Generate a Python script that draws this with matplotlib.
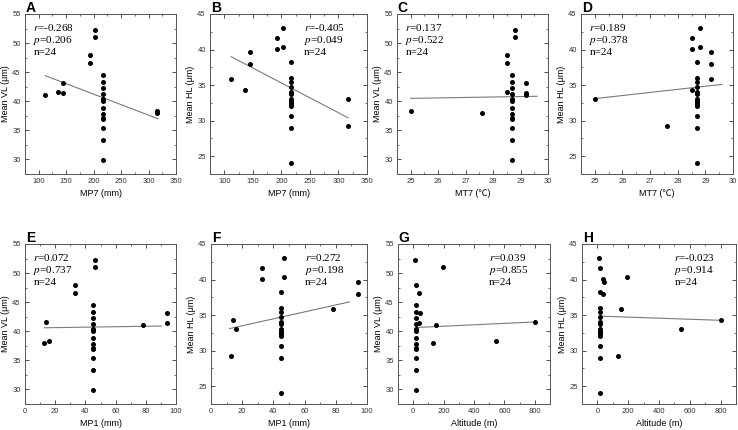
import matplotlib
matplotlib.use("Agg")
import matplotlib.pyplot as plt
import numpy as np
from matplotlib.ticker import MultipleLocator

plt.rcParams["font.family"] = ["Liberation Sans", "Noto Sans CJK SC", "DejaVu Sans"]
plt.rcParams["mathtext.fontset"] = "stix"

# 24 sites: the first 10 are distinct, the last 14 share one weather station
mp7 = [202, 202, 193, 193, 145, 145, 112, 136, 316, 316,
       217, 217, 217, 217, 217, 217, 217, 217, 217, 217, 217, 217, 217, 217]
mt7 = [28.8, 28.8, 28.5, 28.5, 29.2, 29.2, 29.2, 28.5, 25.0, 27.6,
       28.7, 28.7, 28.7, 28.7, 28.7, 28.7, 28.7, 28.7, 28.7, 28.7, 28.7, 28.7, 28.7, 28.7]
mp1 = [46.5, 46.5, 33, 33, 94, 94, 78, 14, 16, 12.5,
       45, 45, 45, 45, 45, 45, 45, 45, 45, 45, 45, 45, 45, 45]
altitude = [9, 193, 20, 35, 45, 36, 152, 800, 543, 132,
            20, 20, 20, 20, 20, 20, 20, 20, 20, 20, 20, 20, 20, 20]
vl = [52.2, 51.1, 48.0, 46.5, 43.2, 41.4, 41.0, 41.6, 38.3, 38.0,
      44.5, 43.3, 42.2, 41.2, 40.4, 40.2, 40.1, 38.8, 37.8, 37.2, 36.9, 35.4, 33.3, 29.9]
hl = [43.0, 40.4, 41.6, 40.1, 39.6, 37.9, 35.9, 34.3, 33.1, 29.3,
      38.3, 36.0, 35.5, 34.8, 34.0, 33.7, 33.05, 32.7, 32.45, 32.3, 32.1, 30.65, 29.0, 24.1]

r_vals = ["-0.268", "-0.405", "0.137", "0.189", "0.072", "0.272", "0.039", "-0.023"]
p_vals = ["0.206", "0.049", "0.522", "0.378", "0.737", "0.198", "0.855", "0.914"]

# fitted lines as drawn in the original (start/end x and y)
fit_x = [(112, 317), (112, 317), (25, 29.6), (25, 29.6),
         (12.8, 90.5), (11.8, 88.6), (20, 800), (20, 800)]
fit_y = [(44.4, 37.0), (39.0, 30.4), (40.5, 40.86), (33.1, 35.1),
         (40.6, 40.9), (33.1, 36.85), (40.65, 41.6), (34.85, 34.27)]

letters = list("ABCDEFGH")
xs = [mp7, mp7, mt7, mt7, mp1, mp1, altitude, altitude]
ys = [vl, hl, vl, hl, vl, hl, vl, hl]
xlabels = ["MP7 (mm)", "MP7 (mm)", "MT7 (℃)", "MT7 (℃)",
           "MP1 (mm)", "MP1 (mm)", "Altitude (m)", "Altitude (m)"]
ylabels = ["Mean VL (μm)", "Mean HL (μm)"] * 4

xlims = [(75, 350), (75, 350), (24.5, 30), (24.5, 30),
         (0, 100), (0, 100), (-100, 900), (-100, 900)]
xsteps = [50, 50, 1, 1, 20, 20, 200, 200]
stat_right = [False, True, False, False, False, True, True, True]

W, H = 738, 430
# pixel boxes (left, top, right, bottom)
boxes = [(25, 14, 176, 174), (210, 14, 367, 174), (397, 14, 548, 174), (581, 14, 733, 174),
         (25, 244, 176, 404), (211, 244, 367, 404), (398, 244, 550, 404), (582, 244, 736, 404)]

fig = plt.figure(figsize=(W / 100, H / 100), dpi=100)

for i in range(8):
    l, t, r, b = boxes[i]
    ax = fig.add_axes([l / W, 1 - b / H, (r - l) / W, (b - t) / H])

    ax.scatter(xs[i], ys[i], s=13, color="black", zorder=3, linewidths=0)
    ax.plot(fit_x[i], fit_y[i], color="#7a7a7a", lw=0.8, zorder=2)

    ax.set_xlim(xlims[i])
    ax.xaxis.set_major_locator(MultipleLocator(xsteps[i]))
    ax.xaxis.set_minor_locator(MultipleLocator(xsteps[i] / 2))
    if ys[i] is vl:
        ax.set_ylim(27.5, 55)
    else:
        ax.set_ylim(22.5, 45)
    ax.yaxis.set_major_locator(MultipleLocator(5))
    ax.yaxis.set_minor_locator(MultipleLocator(2.5))

    ax.tick_params(which="both", direction="in", top=True, right=True,
                   labelsize=5.5, colors="#333333", pad=3)
    ax.tick_params(which="major", length=3, width=0.6)
    ax.tick_params(which="minor", length=1.6, width=0.5)
    for sp in ax.spines.values():
        sp.set_linewidth(0.7)
        sp.set_color("#555555")

    ax.set_xlabel(xlabels[i], fontsize=6.5, labelpad=3)
    ax.set_ylabel(ylabels[i], fontsize=6.5, labelpad=2)

    sx = 0.6 if stat_right[i] else 0.055
    ax.text(sx, 0.95, f"$r$={r_vals[i]}\n$p$={p_vals[i]}\nn=24",
            transform=ax.transAxes, ha="left", va="top",
            fontsize=8, family="Liberation Serif", linespacing=1.15)
    ax.text(0.005, 1.012, letters[i], transform=ax.transAxes, ha="left",
            va="baseline", fontsize=10, fontweight="bold")

fig.savefig("out.png", dpi=100)
